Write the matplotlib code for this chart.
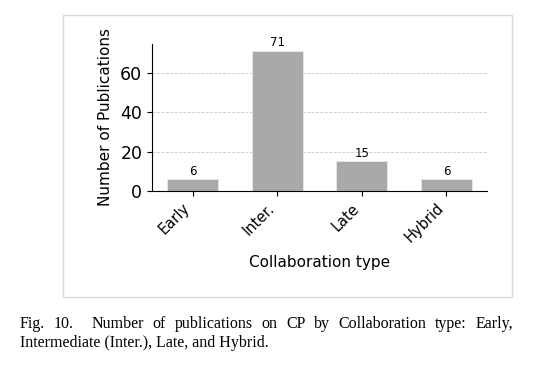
import matplotlib
matplotlib.use("Agg")
import matplotlib.pyplot as plt
from matplotlib.patches import Rectangle

categories = ["Early", "Inter.", "Late", "Hybrid"]
counts = [6, 71, 15, 6]
yticks = [0, 20, 40, 60]
xlabel = "Collaboration type"
ylabel = "Number of Publications"
caption_line1 = ["Fig.", "10.", "Number", "of", "publications", "on", "CP", "by",
                 "Collaboration", "type:", "Early,"]
caption_line2 = "Intermediate (Inter.), Late, and Hybrid."

W, H = 560, 370
fig = plt.figure(figsize=(W / 100, H / 100), dpi=100)

# border box around figure region
fig.add_artist(Rectangle((63 / W, 1 - 297 / H), (512 - 63) / W, (297 - 15) / H,
                         transform=fig.transFigure, fill=False,
                         edgecolor="#d9d9d9", linewidth=1.0))

ax = fig.add_axes([152 / W, 1 - 191 / H, (487 - 152) / W, (191 - 44) / H])
x = list(range(len(categories)))
bars = ax.bar(x, counts, width=0.6, color="#a9a9a9", edgecolor="#e8e8e8",
              linewidth=0.6, zorder=2)
for xi, c in zip(x, counts):
    ax.text(xi, c + 0.8, str(c), ha="center", va="bottom", fontsize=8.5)
ax.set_xticks(x)
ax.set_xticklabels(categories, rotation=45, ha="right", fontsize=10.5)
ax.set_yticks(yticks)
ax.tick_params(axis="y", labelsize=12.5)
ax.set_xlabel(xlabel, fontsize=11, labelpad=7)
ax.set_ylabel(ylabel, fontsize=11, labelpad=5)
ax.spines["top"].set_visible(False)
ax.spines["right"].set_visible(False)
ax.yaxis.grid(True, linestyle="--", color="#cccccc", linewidth=0.6, zorder=0)
ax.set_axisbelow(True)

# caption
fig.canvas.draw()
r = fig.canvas.get_renderer()
cap_font = dict(family="Liberation Serif", fontsize=11.5)
left, right = 20, 513
y1 = 1 - 328 / H
y2 = 1 - 347 / H
texts = [fig.text(0, y1, w, va="baseline", ha="left", **cap_font) for w in caption_line1]
widths = [t.get_window_extent(r).width for t in texts]
extra = 9.0
ngaps = len(texts) - 1
gap = (right - left - sum(widths) - extra) / ngaps
pos = left
for i, (t, w) in enumerate(zip(texts, widths)):
    t.set_x(pos / W)
    pos += w + gap
    if i == 1:
        pos += extra
fig.text(left / W, y2, caption_line2, va="baseline", ha="left", **cap_font)

fig.savefig("out.png", dpi=100)
